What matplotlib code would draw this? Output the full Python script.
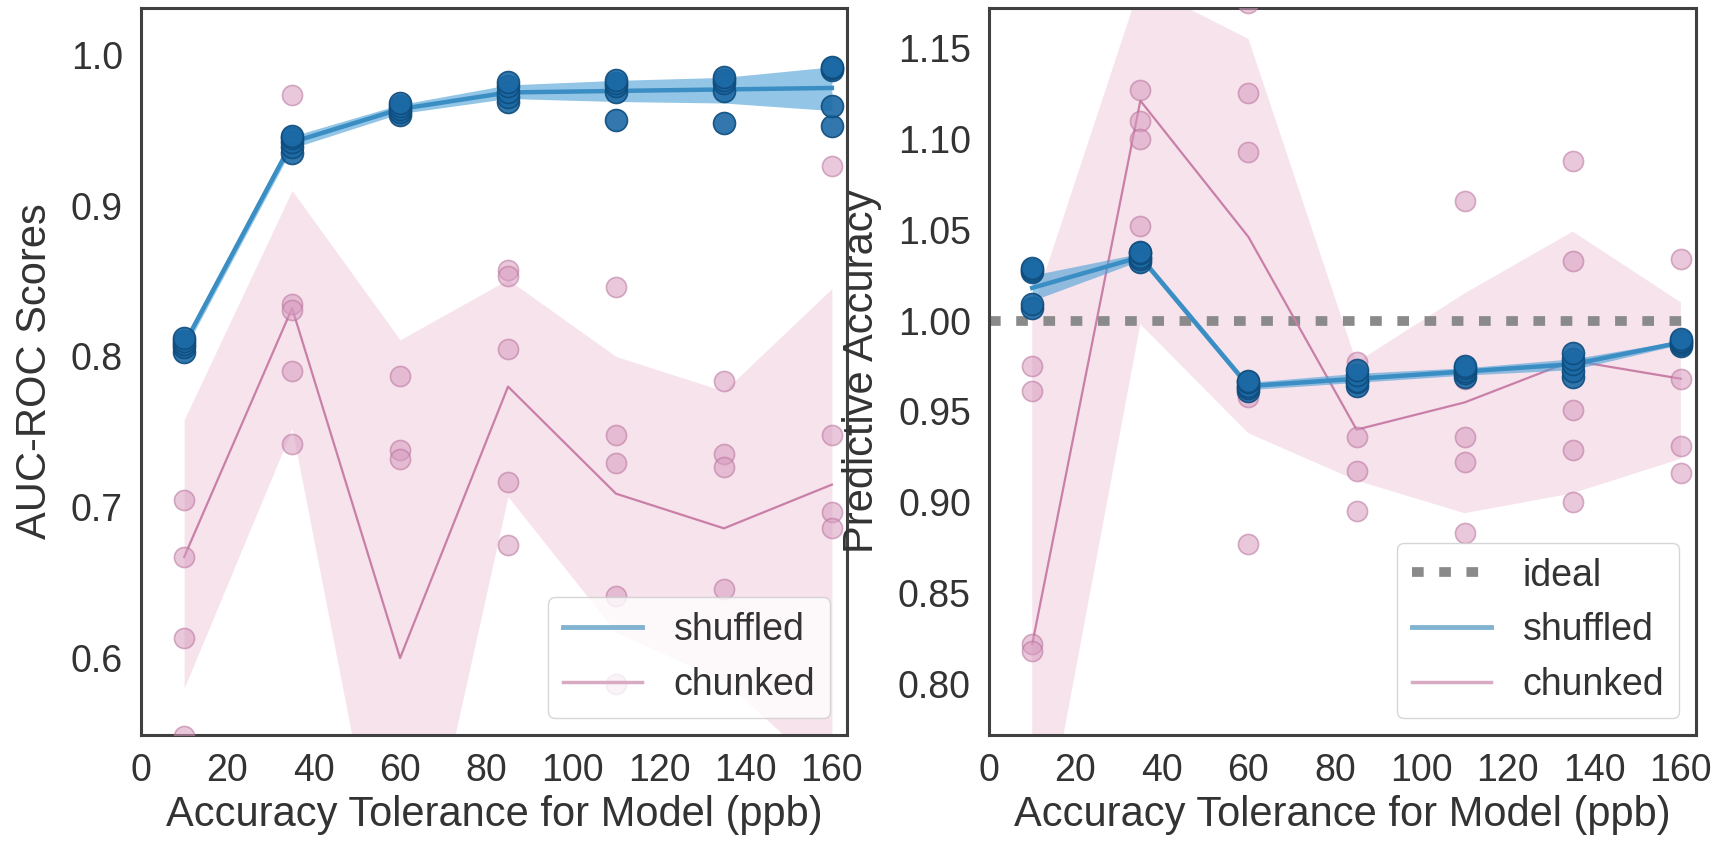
import numpy as np
import matplotlib
matplotlib.use("Agg")
import matplotlib.pyplot as plt
from matplotlib.lines import Line2D

plt.rcParams['font.family'] = ['Liberation Sans', 'DejaVu Sans']

# tolerance values (ppb)
tol = [10, 35, 60, 85, 110, 135, 160]

# ---- AUC-ROC scores, 5 runs per tolerance ----
auc_shuffled_pts = [
    [0.803, 0.806, 0.808, 0.810, 0.812],
    [0.935, 0.939, 0.942, 0.945, 0.946],
    [0.960, 0.962, 0.964, 0.966, 0.968],
    [0.969, 0.972, 0.975, 0.979, 0.982],
    [0.957, 0.975, 0.979, 0.981, 0.983],
    [0.955, 0.976, 0.981, 0.983, 0.985],
    [0.953, 0.966, 0.990, 0.991, 0.992],
]
auc_shuffled_mean = [0.808, 0.942, 0.964, 0.975, 0.976, 0.977, 0.978]
auc_shuffled_lo = [0.804, 0.938, 0.961, 0.971, 0.969, 0.968, 0.963]
auc_shuffled_hi = [0.811, 0.946, 0.967, 0.980, 0.983, 0.985, 0.992]

auc_chunked_pts = [
    [0.806, 0.705, 0.667, 0.613, 0.548],
    [0.973, 0.835, 0.831, 0.790, 0.742],
    [0.787, 0.738, 0.732, 0.400, 0.343],
    [0.857, 0.853, 0.805, 0.717, 0.675],
    [0.846, 0.748, 0.729, 0.641, 0.583],
    [0.784, 0.735, 0.727, 0.646, 0.540],
    [0.926, 0.748, 0.697, 0.686, 0.518],
]
auc_chunked_mean = [0.667, 0.832, 0.600, 0.780, 0.709, 0.686, 0.715]
auc_chunked_lo = [0.580, 0.752, 0.385, 0.707, 0.617, 0.585, 0.520]
auc_chunked_hi = [0.758, 0.910, 0.811, 0.851, 0.800, 0.777, 0.845]

# ---- predictive accuracy ----
pa_shuffled_pts = [
    [1.007, 1.009, 1.027, 1.028, 1.029],
    [1.032, 1.034, 1.035, 1.037, 1.038],
    [0.961, 0.963, 0.964, 0.966, 0.967],
    [0.964, 0.966, 0.967, 0.970, 0.973],
    [0.969, 0.971, 0.972, 0.974, 0.975],
    [0.969, 0.972, 0.976, 0.979, 0.982],
    [0.986, 0.987, 0.988, 0.989, 0.990],
]
pa_shuffled_mean = [1.018, 1.035, 0.964, 0.968, 0.972, 0.976, 0.988]
pa_shuffled_lo = [1.011, 1.033, 0.962, 0.966, 0.970, 0.973, 0.987]
pa_shuffled_hi = [1.025, 1.037, 0.966, 0.971, 0.974, 0.979, 0.989]

pa_chunked_pts = [
    [0.975, 0.961, 0.822, 0.818, 0.534],
    [1.127, 1.110, 1.100, 1.052, 1.210],
    [1.175, 1.125, 1.093, 0.958, 0.877],
    [0.977, 0.972, 0.936, 0.917, 0.895],
    [1.066, 0.968, 0.936, 0.922, 0.883],
    [1.088, 1.033, 0.951, 0.929, 0.900],
    [1.034, 0.988, 0.968, 0.931, 0.916],
]
pa_chunked_mean = [0.822, 1.121, 1.046, 0.940, 0.955, 0.978, 0.968]
pa_chunked_lo = [0.680, 0.998, 0.938, 0.912, 0.894, 0.905, 0.924]
pa_chunked_hi = [1.005, 1.185, 1.155, 0.977, 1.015, 1.049, 1.010]

ideal = 1.0

# colours
BLUE_PT = '#1b69a5'
BLUE_EDGE = '#0f4c7c'
BLUE_LINE = '#3a8ec4'
BLUE_BAND = '#4b9fd6'
BLUE_LEG = '#82b4d2'
PINK_PT = '#d79bbf'
PINK_EDGE = '#b9729b'
PINK_LINE = '#c97fa8'
PINK_BAND = '#edc3d6'
PINK_LEG = '#d9aac3'
IDEAL = '#8a8a8a'
SPINE = '#404040'
TXT = '#333333'

TICK_FS = 27
LABEL_FS = 30
LEG_FS = 27


def draw(ax, shuf_pts, shuf_m, shuf_lo, shuf_hi, chk_pts, chk_m, chk_lo, chk_hi):
    ax.fill_between(tol, chk_lo, chk_hi, color=PINK_BAND, alpha=0.45, lw=0, zorder=1)
    ax.plot(tol, chk_m, color=PINK_LINE, lw=1.6, zorder=3)
    for x, ys in zip(tol, chk_pts):
        ax.scatter([x] * len(ys), ys, s=210, color=PINK_PT, edgecolor=PINK_EDGE,
                   linewidth=1.2, alpha=0.55, zorder=4)
    ax.fill_between(tol, shuf_lo, shuf_hi, color=BLUE_BAND, alpha=0.6, lw=0, zorder=5)
    ax.plot(tol, shuf_m, color=BLUE_LINE, lw=3.2, zorder=6)
    for x, ys in zip(tol, shuf_pts):
        ax.scatter([x] * len(ys), ys, s=250, color=BLUE_PT, edgecolor=BLUE_EDGE,
                   linewidth=1.2, alpha=0.9, zorder=7)


fig = plt.figure(figsize=(17.17, 8.42), dpi=100)
ax1 = fig.add_axes([0.0821, 0.1271, 0.4112, 0.8634])
ax2 = fig.add_axes([0.5760, 0.1271, 0.4118, 0.8634])

draw(ax1, auc_shuffled_pts, auc_shuffled_mean, auc_shuffled_lo, auc_shuffled_hi,
     auc_chunked_pts, auc_chunked_mean, auc_chunked_lo, auc_chunked_hi)

ax2.axhline(ideal, color=IDEAL, lw=7, dashes=(1.2, 1.6), dash_capstyle='butt', zorder=2)
draw(ax2, pa_shuffled_pts, pa_shuffled_mean, pa_shuffled_lo, pa_shuffled_hi,
     pa_chunked_pts, pa_chunked_mean, pa_chunked_lo, pa_chunked_hi)

ax1.set_ylim(0.549, 1.031)
ax1.set_yticks([0.6, 0.7, 0.8, 0.9, 1.0])
ax1.set_yticklabels(['0.6', '0.7', '0.8', '0.9', '1.0'])
ax2.set_ylim(0.772, 1.172)
yt2 = [0.80, 0.85, 0.90, 0.95, 1.00, 1.05, 1.10, 1.15]
ax2.set_yticks(yt2)
ax2.set_yticklabels(['%.2f' % v for v in yt2])

for ax in (ax1, ax2):
    ax.set_xlim(0, 163.5)
    ax.set_xticks(range(0, 161, 20))
    ax.tick_params(length=0, labelsize=TICK_FS, colors=TXT, pad=13)
    for sp in ax.spines.values():
        sp.set_color(SPINE)
        sp.set_linewidth(2.2)
    ax.set_xlabel('Accuracy Tolerance for Model (ppb)', fontsize=LABEL_FS, color=TXT, labelpad=4)

ax1.set_ylabel('AUC-ROC Scores', fontsize=LABEL_FS, color=TXT)
ax1.yaxis.set_label_coords(-0.122, 0.5)
ax2.set_ylabel('Predictive Accuracy', fontsize=LABEL_FS, color=TXT)
ax2.yaxis.set_label_coords(-0.151, 0.5)

h_ideal = Line2D([], [], color=IDEAL, lw=7, dashes=(1.2, 1.6), dash_capstyle='butt')
h_shuf = Line2D([], [], color=BLUE_LEG, lw=3.5)
h_chk = Line2D([], [], color=PINK_LEG, lw=2.5)
leg_kw = dict(loc='lower right', fontsize=LEG_FS, frameon=True, edgecolor='#cccccc',
              fancybox=True, labelcolor=TXT, handlelength=2.1, handletextpad=0.85,
              borderaxespad=0.45)
ax1.legend([h_shuf, h_chk], ['shuffled', 'chunked'], **leg_kw)
ax2.legend([h_ideal, h_shuf, h_chk], ['ideal', 'shuffled', 'chunked'], **leg_kw)

fig.savefig('out.png', dpi=100)
